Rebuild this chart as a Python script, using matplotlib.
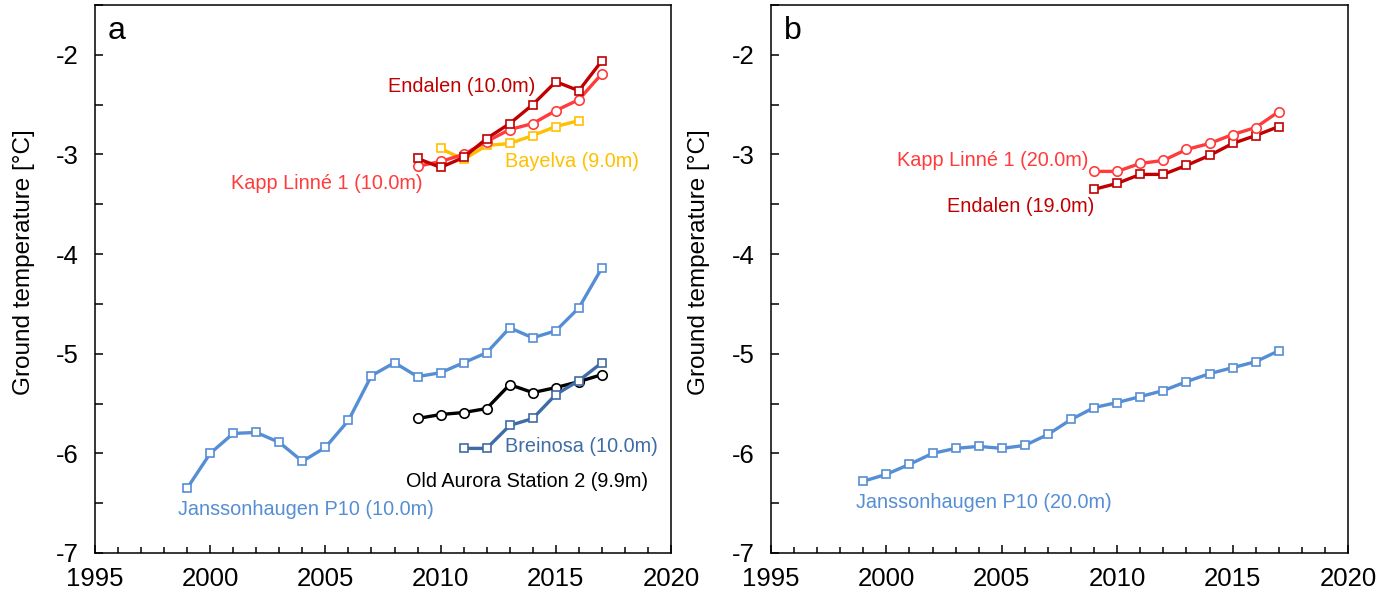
import numpy as np
import matplotlib
matplotlib.use('Agg')
import matplotlib.pyplot as plt
from matplotlib.ticker import MultipleLocator, FormatStrFormatter

plt.rcParams['font.family'] = ['Liberation Sans', 'DejaVu Sans']
plt.rcParams['axes.unicode_minus'] = False

# ---- data ----
yrs_jan = list(range(1999, 2018))
jan_10 = [-6.35, -6.00, -5.80, -5.79, -5.89, -6.08, -5.94, -5.67, -5.22, -5.09,
          -5.23, -5.19, -5.09, -4.99, -4.74, -4.84, -4.77, -4.54, -4.14]
jan_20 = [-6.28, -6.21, -6.11, -6.00, -5.95, -5.93, -5.95, -5.92, -5.81, -5.66,
          -5.54, -5.49, -5.43, -5.37, -5.28, -5.20, -5.14, -5.08, -4.97]

yrs_09 = list(range(2009, 2018))
end_10 = [-3.04, -3.13, -3.03, -2.84, -2.69, -2.50, -2.27, -2.36, -2.06]
kapp_10 = [-3.12, -3.07, -3.00, -2.87, -2.75, -2.69, -2.56, -2.45, -2.19]
aurora_99 = [-5.65, -5.61, -5.59, -5.55, -5.31, -5.39, -5.34, -5.28, -5.21]
end_19 = [-3.35, -3.29, -3.20, -3.20, -3.11, -3.01, -2.89, -2.81, -2.72]
kapp_20 = [-3.17, -3.17, -3.09, -3.06, -2.95, -2.89, -2.80, -2.73, -2.57]

yrs_bay = list(range(2010, 2017))
bay_9 = [-2.94, -3.05, -2.91, -2.89, -2.81, -2.72, -2.66]

yrs_brei = list(range(2011, 2018))
brei_10 = [-5.95, -5.95, -5.72, -5.65, -5.41, -5.27, -5.09]

c_jan = '#558ED5'
c_brei = '#3F6CA6'
c_end = '#C00000'
c_kapp = '#FF3B3B'
c_bay = '#FFC000'
c_aur = '#000000'


def series(ax, x, y, color, marker):
    ms = 5.2 if marker == 's' else 6.8
    ax.plot(x, y, color=color, lw=2.4, marker=marker, ms=ms, mfc='white',
            mec=color, mew=1.2, zorder=3)


def style(ax, letter):
    ax.set_xlim(1995, 2020)
    ax.set_ylim(-7, -1.5)
    ax.xaxis.set_major_locator(MultipleLocator(5))
    ax.xaxis.set_minor_locator(MultipleLocator(1))
    ax.yaxis.set_major_locator(MultipleLocator(1))
    ax.yaxis.set_minor_locator(MultipleLocator(0.5))
    ax.yaxis.set_major_formatter(FormatStrFormatter('%d'))
    ax.tick_params(which='both', direction='in', width=1.1, labelsize=18.5)
    ax.tick_params(axis='x', which='major', length=6, pad=10)
    ax.tick_params(axis='x', which='minor', length=4)
    ax.tick_params(axis='y', which='major', length=6, pad=12)
    ax.tick_params(axis='y', which='minor', length=6)
    for s in ax.spines.values():
        s.set_linewidth(1.1)
    ax.set_ylabel('Ground temperature [°C]', fontsize=17.5)
    ax.yaxis.set_label_coords(-0.105, 0.53)
    ax.text(0.022, 0.953, letter, transform=ax.transAxes, fontsize=23,
            ha='left', va='center')


fig = plt.figure(figsize=(13.97, 6.06), dpi=100)
ax1 = fig.add_axes([95 / 1397, 53 / 606, 576 / 1397, 548 / 606])
ax2 = fig.add_axes([771 / 1397, 53 / 606, 577 / 1397, 548 / 606])

# panel a
series(ax1, yrs_jan, jan_10, c_jan, 's')
series(ax1, yrs_09, aurora_99, c_aur, 'o')
series(ax1, yrs_brei, brei_10, c_brei, 's')
series(ax1, yrs_bay, bay_9, c_bay, 's')
series(ax1, yrs_09, kapp_10, c_kapp, 'o')
series(ax1, yrs_09, end_10, c_end, 's')

fs = 14.3
ax1.text(2014.1, -2.32, 'Endalen (10.0m)', color=c_end, fontsize=fs, ha='right', va='center')
ax1.text(2012.8, -3.07, 'Bayelva (9.0m)', color=c_bay, fontsize=fs, ha='left', va='center')
ax1.text(2009.2, -3.29, 'Kapp Linné 1 (10.0m)', color=c_kapp, fontsize=fs, ha='right', va='center')
ax1.text(2012.8, -5.93, 'Breinosa (10.0m)', color=c_brei, fontsize=fs, ha='left', va='center')
ax1.text(2008.5, -6.28, 'Old Aurora Station 2 (9.9m)', color=c_aur, fontsize=fs, ha='left', va='center')
ax1.text(1998.6, -6.56, 'Janssonhaugen P10 (10.0m)', color=c_jan, fontsize=fs, ha='left', va='center')
style(ax1, 'a')

# panel b
series(ax2, yrs_jan, jan_20, c_jan, 's')
series(ax2, yrs_09, end_19, c_end, 's')
series(ax2, yrs_09, kapp_20, c_kapp, 'o')

ax2.text(2008.75, -3.06, 'Kapp Linné 1 (20.0m)', color=c_kapp, fontsize=fs, ha='right', va='center')
ax2.text(2009.0, -3.52, 'Endalen (19.0m)', color=c_end, fontsize=fs, ha='right', va='center')
ax2.text(1998.7, -6.49, 'Janssonhaugen P10 (20.0m)', color=c_jan, fontsize=fs, ha='left', va='center')
style(ax2, 'b')

fig.savefig('out.png', dpi=100)
